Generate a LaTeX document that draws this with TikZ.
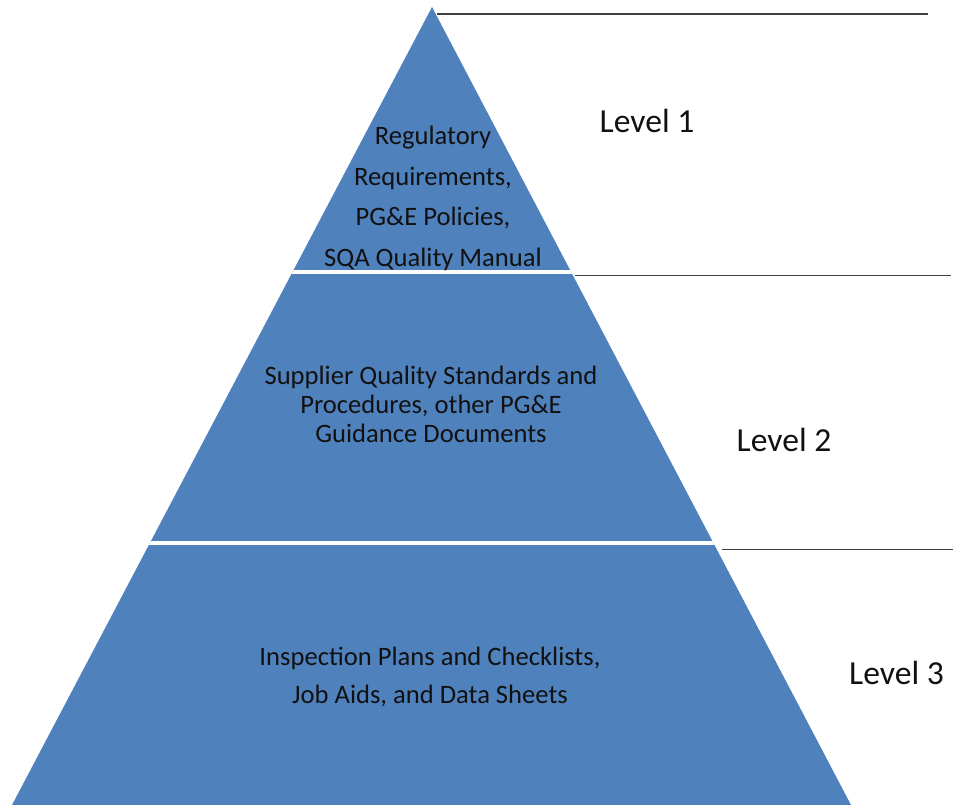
\documentclass[tikz,border=0pt]{standalone}
\usepackage{fontspec}
\setmainfont{Carlito}
\definecolor{pyrblue}{HTML}{4F81BD}
\definecolor{rulegray}{HTML}{404040}
\definecolor{inktext}{HTML}{111111}
\begin{document}
\begin{tikzpicture}[x=1pt,y=-1pt,
  tiertext/.style={align=center,anchor=base,inner sep=0pt,text=inktext},
  levellabel/.style={anchor=base west,inner sep=0pt,text=inktext,font=\fontsize{33.6}{36}\selectfont},
  divider/.style={draw=rulegray,line width=1.5pt},
  gap/.style={draw=white,line width=4pt}]
\useasboundingbox (0,0) rectangle (953,805);
% pyramid outline
\coordinate (apex) at (432,7);
\coordinate (bl) at (12,805);
\coordinate (br) at (851,805);
\fill[pyrblue] (apex) -- (bl) -- (br) -- cycle;
% white gaps between the tiers
\begin{scope}
  \clip (apex) -- (bl) -- (br) -- cycle;
  \draw[gap] (0,271.5) -- (953,271.5);
  \draw[gap] (0,542.7) -- (953,542.7);
\end{scope}
% level dividers on the right
\coordinate (d1a) at (437,14);   \coordinate (d1b) at (928,14);
\coordinate (d2a) at (575,275.6); \coordinate (d2b) at (951,275.6);
\coordinate (d3a) at (721.7,549.3); \coordinate (d3b) at (953,549.3);
\draw[divider] (d1a) -- (d1b);
\draw[divider] (d2a) -- (d2b);
\draw[divider] (d3a) -- (d3b);
% tier texts (anchored at the baseline of their last line)
\node[tiertext,font=\fontsize{26.6}{40.7}\selectfont] (t1) at (433,266.5)
  {Regulatory\\Requirements,\\PG\&E Policies,\\SQA Quality Manual};
\node[tiertext,font=\fontsize{26.6}{28.9}\selectfont] (t2) at (431,442.7)
  {Supplier Quality Standards and\\Procedures, other PG\&E\\Guidance Documents};
\node[tiertext,font=\fontsize{26.6}{38.3}\selectfont] (t3) at (430,703.3)
  {Inspection Plans and Checklists,\\Job Aids, and Data Sheets};
% level labels
\node[levellabel] (l1) at (599.5,132.3) {Level 1};
\node[levellabel] (l2) at (736.5,451.7) {Level 2};
\node[levellabel] (l3) at (849,684) {Level 3};
\end{tikzpicture}
\end{document}
